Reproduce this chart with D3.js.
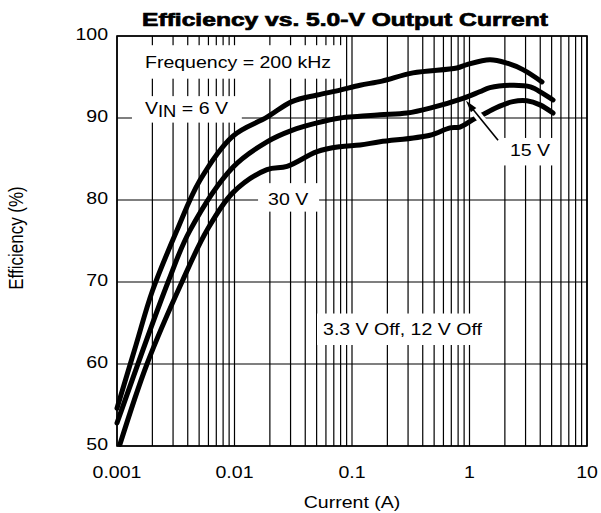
<!DOCTYPE html>
<html><head><meta charset="utf-8">
<script src="https://cdn.jsdelivr.net/npm/d3@7"></script>
<style>body{margin:0;background:#fff} text{font-family:"Liberation Sans",Arial,Helvetica,sans-serif}</style>
</head><body><svg id="c" width="601" height="513"></svg>
<script>
const titleText = "Efficiency vs. 5.0-V Output Current";
const xLabel = "Current (A)";
const yLabel = "Efficiency (%)";
const xTickValues = [0.001, 0.01, 0.1, 1, 10];
const xTickLabels = ["0.001", "0.01", "0.1", "1", "10"];
const yTickValues = [50, 60, 70, 80, 90, 100];
const yTickLabels = ["50", "60", "70", "80", "90", "100"];

// VIN = 6 V (top curve)
const vin6Current = [0.001, 0.00145, 0.002, 0.00324, 0.00508, 0.0097, 0.0189, 0.0308, 0.0504, 0.079, 0.117, 0.18, 0.33, 0.78, 0.95, 1.49, 2.08, 2.85, 4.14];
const vin6Eff     = [54.6, 62.3, 68.9, 76.3, 82.4, 87.8, 90.1, 92.0, 92.8, 93.4, 94.0, 94.5, 95.5, 96.1, 96.5, 97.1, 96.7, 95.9, 94.4];
// VIN = 15 V (middle curve)
const vin15Current = [0.001, 0.00272, 0.00418, 0.0097, 0.0189, 0.0308, 0.0504, 0.079, 0.117, 0.173, 0.294, 0.461, 0.88, 1.22, 1.49, 2.34, 3.3, 4.2, 5.14];
const vin15Eff     = [52.8, 70, 76.3, 84.0, 87.1, 88.5, 89.4, 90.0, 90.2, 90.4, 90.6, 91.2, 92.4, 93.2, 93.7, 94.0, 93.8, 93.0, 92.2];
// VIN = 30 V (bottom curve)
const vin30Current = [0.00106, 0.0018, 0.00357, 0.00583, 0.0097, 0.0189, 0.028, 0.0504, 0.079, 0.117, 0.173, 0.461, 0.682, 0.83, 1.07, 1.38, 1.65, 2.34, 3.08, 3.98, 5.14];
const vin30Eff     = [50.2, 60, 70, 76.3, 80.9, 83.7, 84.1, 85.9, 86.5, 86.7, 87.1, 87.9, 88.8, 88.9, 89.8, 90.6, 91.2, 92.0, 92.1, 91.6, 90.6];

// annotation texts and anchor points (data units)
const annoTexts = ["Frequency = 200 kHz", "VIN", "30 V", "15 V", "3.3 V Off, 12 V Off"];
const annoX = [0.00173, 0.00173, 0.0193, 2.21, 0.0567];
const annoY = [96.1, 90.5, 79.4, 85.4, 63.5];
const arrowFrom = [1.75, 87.3];
const arrowTo = [0.934, 92.1];

const svg = d3.select("#c");
const x = d3.scaleLog().domain([0.001, 10]).range([117, 587]);
const y = d3.scaleLinear().domain([50, 100]).range([446, 36]);
const SX = 1.15, FS = 17;

// grid
const minor = [];
[0.001, 0.01, 0.1, 1].forEach(d => { for (let k = 1; k <= 9; k++) minor.push(d * k); });
minor.push(10);
const grid = svg.append("g");
grid.selectAll("line.v").data(minor).join("line")
  .attr("x1", d => x(d)).attr("x2", d => x(d))
  .attr("y1", y(50)).attr("y2", y(100))
  .attr("stroke", "#000").attr("stroke-width", 1.2);
grid.selectAll("line.h").data(yTickValues).join("line")
  .attr("x1", x(0.001)).attr("x2", x(10))
  .attr("y1", d => y(d)).attr("y2", d => y(d))
  .attr("stroke", "#000").attr("stroke-width", 1.2);

// annotation labels with white boxes
const pads = [[12, 7, 7], [13, 2, 2], [10, 6, 3], [8, 2, 6], [6, 6, 6]];
annoTexts.forEach((t, i) => {
  const g = svg.append("g").attr("transform", `translate(${x(annoX[i])},${y(annoY[i])}) scale(${SX},1)`);
  const r = g.append("rect").attr("fill", "#fff");
  const tx = g.append("text").attr("font-size", FS).attr("fill", "#000");
  if (t === "VIN") {
    tx.append("tspan").text("V");
    tx.append("tspan").attr("dy", 3).attr("font-size", 16).text("IN");
    tx.append("tspan").attr("dy", -3).text(" = 6 V");
  } else tx.text(t);
  const b = tx.node().getBBox();
  const p = pads[i];
  r.attr("x", b.x - p[0] / SX).attr("y", b.y - p[1]).attr("width", b.width + 2 * p[0] / SX).attr("height", b.height + p[1] + p[2]);
});

// curves
const line = d3.line().x(d => x(d[0])).y(d => y(d[1])).curve(d3.curveCatmullRom.alpha(0.5));
const series = [
  d3.zip(vin6Current, vin6Eff),
  d3.zip(vin15Current, vin15Eff),
  d3.zip(vin30Current, vin30Eff)
];
svg.append("g").selectAll("path").data(series).join("path")
  .attr("d", line).attr("fill", "none").attr("stroke", "#000")
  .attr("stroke-width", 5).attr("stroke-linecap", "round").attr("stroke-linejoin", "round");

// arrow
const ax1 = x(arrowFrom[0]), ay1 = y(arrowFrom[1]), ax2 = x(arrowTo[0]), ay2 = y(arrowTo[1]);
const L = Math.hypot(ax2 - ax1, ay2 - ay1), ux = (ax2 - ax1) / L, uy = (ay2 - ay1) / L;
svg.append("line").attr("x1", ax1).attr("y1", ay1)
  .attr("x2", ax2 - ux * 12).attr("y2", ay2 - uy * 12)
  .attr("stroke", "#fff").attr("stroke-width", 8);
svg.append("line").attr("x1", ax1).attr("y1", ay1)
  .attr("x2", ax2 - ux * 8).attr("y2", ay2 - uy * 8)
  .attr("stroke", "#000").attr("stroke-width", 1.6);
const hl = 12, hw = 3.5;
const bx = ax2 - ux * hl, by = ay2 - uy * hl;
svg.append("path").attr("d", `M${ax2},${ay2}L${bx - uy * hw},${by + ux * hw}L${bx + uy * hw},${by - ux * hw}Z`).attr("fill", "#000");

// border
svg.append("rect").attr("x", x(0.001)).attr("y", y(100))
  .attr("width", x(10) - x(0.001)).attr("height", y(50) - y(100))
  .attr("fill", "none").attr("stroke", "#000").attr("stroke-width", 1.6);

// tick labels
yTickValues.forEach((v, i) => {
  svg.append("text").attr("transform", `translate(108,${y(v) + 4}) scale(${SX},1)`)
    .attr("text-anchor", "end").attr("font-size", FS).text(yTickLabels[i]);
});
xTickValues.forEach((v, i) => {
  svg.append("text").attr("transform", `translate(${x(v)},478) scale(${SX},1)`)
    .attr("text-anchor", "middle").attr("font-size", FS).text(xTickLabels[i]);
});

// axis titles
svg.append("text").attr("transform", `translate(352,508) scale(${SX},1)`)
  .attr("text-anchor", "middle").attr("font-size", FS).text(xLabel);
svg.append("text").attr("transform", `translate(23,238) scale(${SX},1) rotate(-90)`)
  .attr("text-anchor", "middle").attr("font-size", FS).text(yLabel);

// title
const tt = svg.append("text").attr("text-anchor", "middle").attr("font-size", 18)
  .attr("font-weight", "bold").attr("stroke", "#000").attr("stroke-width", 0.7).text(titleText);
const tw = tt.node().getBBox().width;
tt.attr("transform", `translate(345,26) scale(${406 / tw},1)`);
</script></body></html>
